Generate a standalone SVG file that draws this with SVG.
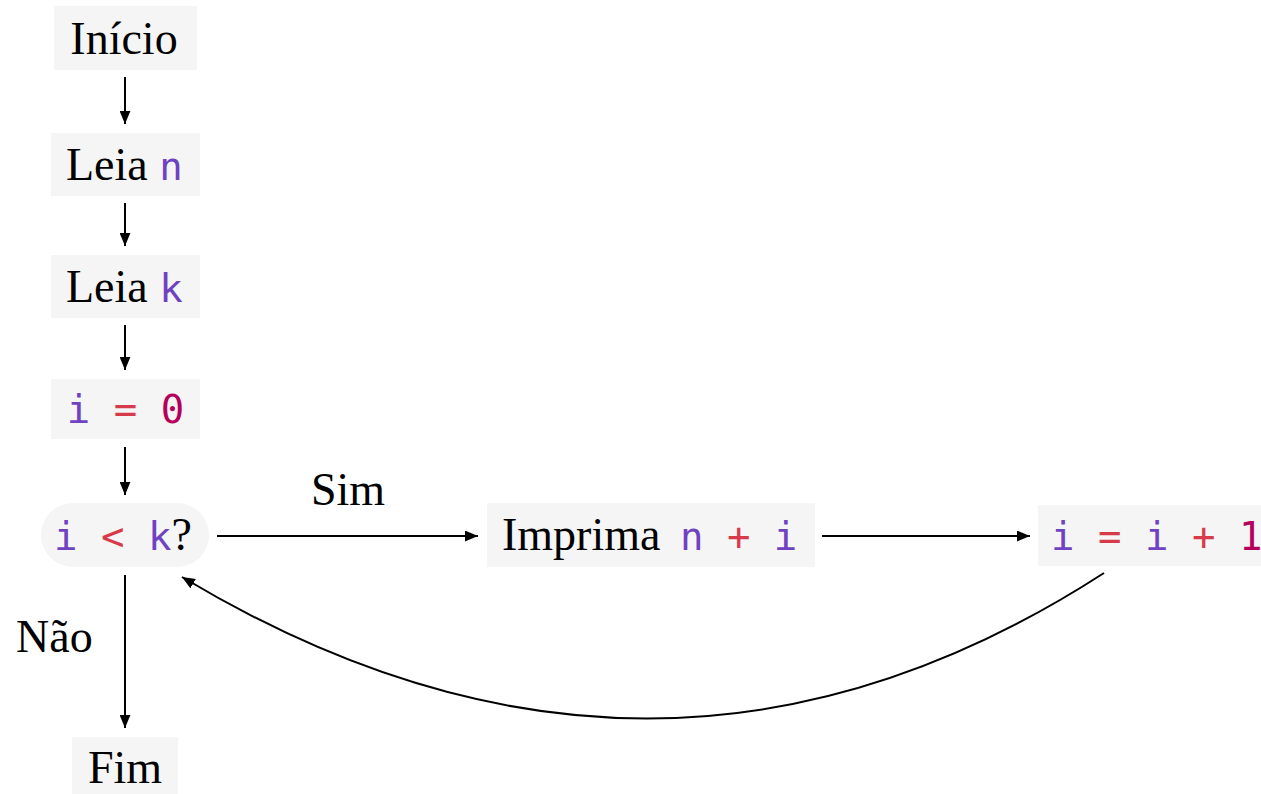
<svg xmlns="http://www.w3.org/2000/svg" width="1261" height="794" viewBox="0 0 1261 794">
<defs>
<style>
.box{fill:#f5f5f5;}
.s{font-family:"Liberation Serif",serif;font-size:46px;fill:#000;}
.m{font-family:"DejaVu Sans Mono",monospace;font-size:39px;}
.v{fill:#6f42c1;}
.o{fill:#d73a49;}
.n{fill:#b5005b;}
.e{fill:none;stroke:#000;stroke-width:2;}
</style>
<marker id="ah" viewBox="0 0 12 10" refX="12" refY="5" markerWidth="13" markerHeight="11" markerUnits="userSpaceOnUse" orient="auto">
<path d="M0,0 L12,5 L0,10 Z" fill="#000"/>
</marker>
</defs>
<rect width="1261" height="794" fill="#fff"/>
<g id="inicio"><rect class="box" x="54" y="6" width="143" height="64"/><text class="s" x="124" y="54" text-anchor="middle">Início</text></g>
<g id="leia-n"><rect class="box" x="51" y="133" width="149" height="63"/><text class="s" x="66" y="180">Leia <tspan class="m v">n</tspan></text></g>
<g id="leia-k"><rect class="box" x="51" y="255" width="149" height="63"/><text class="s" x="66" y="302">Leia <tspan class="m v">k</tspan></text></g>
<g id="i0"><rect class="box" x="51" y="379" width="149" height="60"/><text class="m" x="125.5" y="423" text-anchor="middle"><tspan class="v">i</tspan> <tspan class="o">=</tspan> <tspan class="n">0</tspan></text></g>
<g id="cond"><rect class="box" x="41" y="503" width="168" height="64" rx="32"/><text class="m" x="54" y="550"><tspan class="v">i</tspan> <tspan class="o">&lt;</tspan> <tspan class="v">k</tspan><tspan class="s">?</tspan></text></g>
<g id="imprima"><rect class="box" x="487" y="503" width="328" height="64"/><text class="s" x="502" y="550">Imprima <tspan class="m v" dx="8">n</tspan><tspan class="m"> </tspan><tspan class="m o">+</tspan><tspan class="m"> </tspan><tspan class="m v">i</tspan></text></g>
<g id="incr"><rect class="box" x="1038" y="505" width="240" height="61"/><text class="m" x="1051" y="550"><tspan class="v">i</tspan> <tspan class="o">=</tspan> <tspan class="v">i</tspan> <tspan class="o">+</tspan> <tspan class="n">1</tspan></text></g>
<g id="fim"><rect class="box" x="72" y="737" width="106" height="57"/><text class="s" x="125" y="783" text-anchor="middle">Fim</text></g>
<g id="connectors">
<line class="e" x1="125" y1="77" x2="125" y2="124" marker-end="url(#ah)"/>
<line class="e" x1="125" y1="203" x2="125" y2="246" marker-end="url(#ah)"/>
<line class="e" x1="125" y1="325" x2="125" y2="370" marker-end="url(#ah)"/>
<line class="e" x1="125" y1="447" x2="125" y2="495" marker-end="url(#ah)"/>
<line class="e" x1="125" y1="575" x2="125" y2="728" marker-end="url(#ah)"/>
<line class="e" x1="217" y1="536" x2="478" y2="536" marker-end="url(#ah)"/>
<line class="e" x1="822" y1="536" x2="1030" y2="536" marker-end="url(#ah)"/>
<path class="e" d="M1104,573 Q657,862 182,577" marker-end="url(#ah)"/>
<text class="s" x="311" y="505">Sim</text>
<text class="s" x="16" y="652">Não</text>
</g>
</svg>
